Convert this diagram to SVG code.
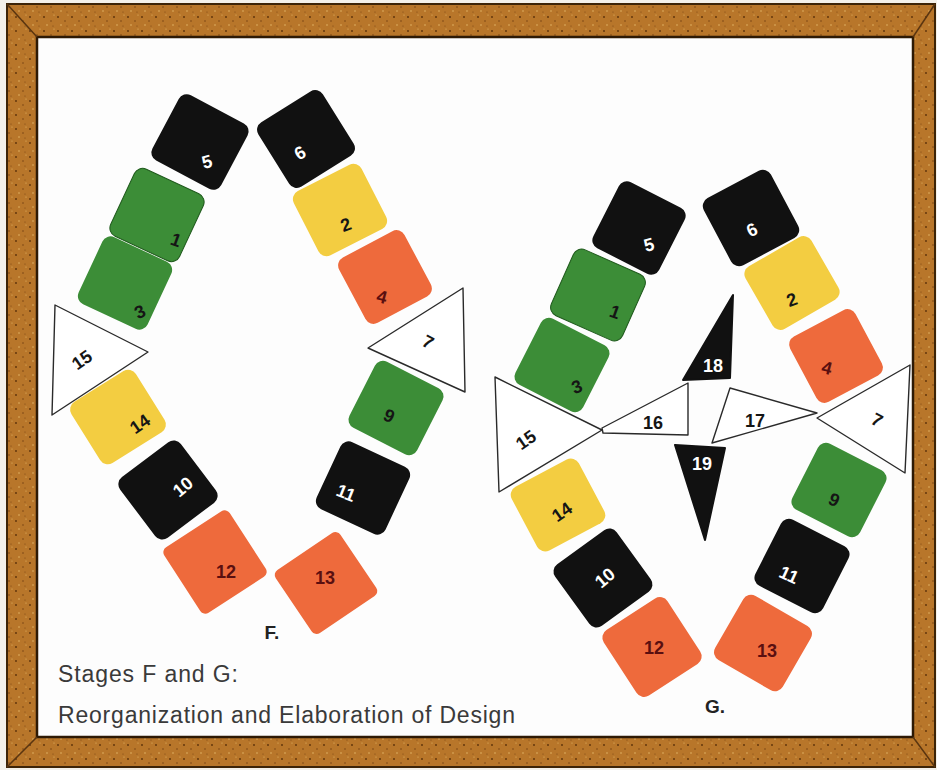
<svg xmlns="http://www.w3.org/2000/svg" width="937" height="770" viewBox="0 0 937 770">
<defs>
<pattern id="wood" width="14" height="14" patternUnits="userSpaceOnUse">
<rect width="14" height="14" fill="#b8762a"/>
<circle cx="2" cy="3" r="0.9" fill="#5a3008"/>
<circle cx="9" cy="7" r="0.7" fill="#6a3a0c"/>
<circle cx="5" cy="11" r="0.8" fill="#e2b464"/>
<circle cx="12" cy="1" r="0.6" fill="#e5b868"/>
<circle cx="11" cy="12" r="0.6" fill="#7a4612"/>
</pattern>
<style>
.blk{fill:#111111}
.grn{fill:#3c8d37}
.yel{fill:#f3cd41}
.org{fill:#ee6a3c}
.wht{fill:#ffffff;stroke:#2a2a2a;stroke-width:1.4;stroke-linejoin:round}
.n{font-family:"Liberation Sans",Arial,sans-serif;font-weight:bold;font-size:18px;text-anchor:middle;dominant-baseline:central}
.w{fill:#ffffff}
.k{fill:#151515}
.r{fill:#5a0f10}
.cap{font-family:"Liberation Sans",Arial,sans-serif;font-size:23px;fill:#3a3a3a}
.stage{font-family:"Liberation Sans",Arial,sans-serif;font-weight:bold;font-size:19px;fill:#222}
</style>
</defs>
<rect width="937" height="770" fill="#f4f1ea"/>
<g id="frame">
<rect x="7" y="4" width="928" height="763" fill="url(#wood)" stroke="#3d2407" stroke-width="2"/>
<rect x="37" y="37" width="876" height="700" fill="#fdfdfd" stroke="#2e1a05" stroke-width="2.5"/>
<g stroke="#5a3510" stroke-width="1.5">
<line x1="7" y1="4" x2="37" y2="37"/>
<line x1="935" y1="4" x2="913" y2="37"/>
<line x1="7" y1="767" x2="37" y2="737"/>
<line x1="935" y1="767" x2="913" y2="737"/>
</g>
</g>

<g id="stageF">
<g id="F3"><rect class="grn" x="-38" y="-37" width="76" height="74" rx="9" transform="translate(125,283) rotate(25)"/><text class="n k" transform="translate(140,312) rotate(-25)">3</text></g>
<g id="F1"><rect class="grn" x="-38" y="-37" width="76" height="74" rx="9" transform="translate(157,215) rotate(25)" stroke="#1f5a1c" stroke-width="1"/><text class="n k" transform="translate(176,240) rotate(20)">1</text></g>
<g id="F5"><rect class="blk" x="-39" y="-37" width="78" height="74" rx="9" transform="translate(200,142) rotate(28)"/><text class="n w" transform="translate(207,162) rotate(-15)">5</text></g>
<g id="F4"><rect class="org" x="-37" y="-37" width="74" height="74" rx="9" transform="translate(385,277) rotate(-28)"/><text class="n r" transform="translate(382,297) rotate(15)">4</text></g>
<g id="F2"><rect class="yel" x="-38" y="-36" width="76" height="72" rx="9" transform="translate(340,210) rotate(-27)"/><text class="n k" transform="translate(346,225) rotate(-20)">2</text></g>
<g id="F6"><rect class="blk" x="-38" y="-38" width="76" height="76" rx="9" transform="translate(306,139) rotate(-32)"/><text class="n w" transform="translate(300,153) rotate(-30)">6</text></g>
<g id="F9"><rect class="grn" x="-38" y="-37" width="76" height="74" rx="9" transform="translate(396,408) rotate(27)"/><text class="n k" transform="translate(389,416) rotate(25)">9</text></g>
<g id="F13"><rect class="org" x="-39" y="-38" width="78" height="76" rx="6" transform="translate(326,583) rotate(-34)"/><text class="n r" transform="translate(325,578)">13</text></g>
<g id="F11"><rect class="blk" x="-38" y="-37" width="76" height="74" rx="9" transform="translate(363,488) rotate(25)"/><text class="n w" transform="translate(346,493) rotate(22)">11</text></g>
<g id="F12"><rect class="org" x="-39" y="-39" width="78" height="78" rx="6" transform="translate(215,562) rotate(-33)"/><text class="n r" transform="translate(226,572)">12</text></g>
<g id="F14"><rect class="yel" x="-38" y="-36" width="76" height="72" rx="9" transform="translate(118,417) rotate(-32)"/><text class="n k" transform="translate(140,424) rotate(-35)">14</text></g>
<g id="F10"><rect class="blk" x="-38" y="-38" width="76" height="76" rx="9" transform="translate(168,490) rotate(-37)"/><text class="n w" transform="translate(183,487) rotate(-40)">10</text></g>
<g id="F15"><path class="wht" d="M55,305 L148,352 L52,415 Z"/><text class="n k" transform="translate(82,360) rotate(-35)">15</text></g>
<g id="F7"><path class="wht" d="M463,288 L368,348 L465,392 Z"/><text class="n k" transform="translate(428,342) rotate(28)">7</text></g>
<text class="stage" x="272" y="639" text-anchor="middle">F.</text>
</g>

<g id="stageG">
<g id="G3"><rect class="grn" x="-38" y="-37" width="76" height="74" rx="9" transform="translate(562,365) rotate(27)"/><text class="n k" transform="translate(577,387) rotate(-20)">3</text></g>
<g id="G1"><rect class="grn" x="-39" y="-36" width="78" height="72" rx="9" transform="translate(598,295) rotate(24)" stroke="#1f5a1c" stroke-width="1"/><text class="n k" transform="translate(615,312) rotate(20)">1</text></g>
<g id="G5"><rect class="blk" x="-37" y="-37" width="74" height="74" rx="9" transform="translate(639,228) rotate(27)"/><text class="n w" transform="translate(649,245) rotate(-15)">5</text></g>
<g id="G4"><rect class="org" x="-37" y="-37" width="74" height="74" rx="9" transform="translate(836,356) rotate(-28)"/><text class="n r" transform="translate(827,368) rotate(15)">4</text></g>
<g id="G2"><rect class="yel" x="-38" y="-36" width="76" height="72" rx="9" transform="translate(792,283) rotate(-30)"/><text class="n k" transform="translate(792,300) rotate(-20)">2</text></g>
<g id="G6"><rect class="blk" x="-38" y="-38" width="76" height="76" rx="9" transform="translate(751,218) rotate(-28)"/><text class="n w" transform="translate(752,230) rotate(-25)">6</text></g>
<g id="G9"><rect class="grn" x="-38" y="-37" width="76" height="74" rx="9" transform="translate(839,490) rotate(27)"/><text class="n k" transform="translate(834,500) rotate(25)">9</text></g>
<g id="G13"><rect class="org" x="-39" y="-37" width="78" height="74" rx="9" transform="translate(763,643) rotate(30)"/><text class="n r" transform="translate(767,651)">13</text></g>
<g id="G11"><rect class="blk" x="-38" y="-37" width="76" height="74" rx="9" transform="translate(802,566) rotate(27)"/><text class="n w" transform="translate(789,575) rotate(25)">11</text></g>
<g id="G12"><rect class="org" x="-38" y="-39" width="76" height="78" rx="9" transform="translate(652,647) rotate(-33)"/><text class="n r" transform="translate(654,648)">12</text></g>
<g id="G14"><rect class="yel" x="-38" y="-36" width="76" height="72" rx="9" transform="translate(558,505) rotate(-28)"/><text class="n k" transform="translate(562,512) rotate(-35)">14</text></g>
<g id="G10"><rect class="blk" x="-38" y="-38" width="76" height="76" rx="9" transform="translate(603,578) rotate(-36)"/><text class="n w" transform="translate(605,578) rotate(-40)">10</text></g>
<g id="G15"><path class="wht" d="M495,377 L602,430 L499,492 Z"/><text class="n k" transform="translate(526,440) rotate(-35)">15</text></g>
<g id="G16"><path class="wht" d="M602,428 L688,383 L688,435 L603,433 Z"/><text class="n k" transform="translate(653,423)">16</text></g>
<g id="G17"><path class="wht" d="M730,388 L817,413 L712,443 Z"/><text class="n k" transform="translate(755,421)">17</text></g>
<g id="G7"><path class="wht" d="M910,365 L817,418 L905,473 Z"/><text class="n k" transform="translate(877,420) rotate(28)">7</text></g>
<g id="G18"><path class="blk" d="M733,295 L683,380 L730,378 Z" stroke="#111" stroke-width="2" stroke-linejoin="round"/><text class="n w" transform="translate(713,366)">18</text></g>
<g id="G19"><path class="blk" d="M675,445 L725,448 L705,540 Z" stroke="#111" stroke-width="2" stroke-linejoin="round"/><text class="n w" transform="translate(702,464)">19</text></g>
<text class="stage" x="715" y="713" text-anchor="middle">G.</text>
</g>

<g id="caption">
<text class="cap" x="58" y="682" textLength="180" lengthAdjust="spacing">Stages F and G:</text>
<text class="cap" x="58" y="723" textLength="457" lengthAdjust="spacing">Reorganization and Elaboration of Design</text>
</g>
</svg>
